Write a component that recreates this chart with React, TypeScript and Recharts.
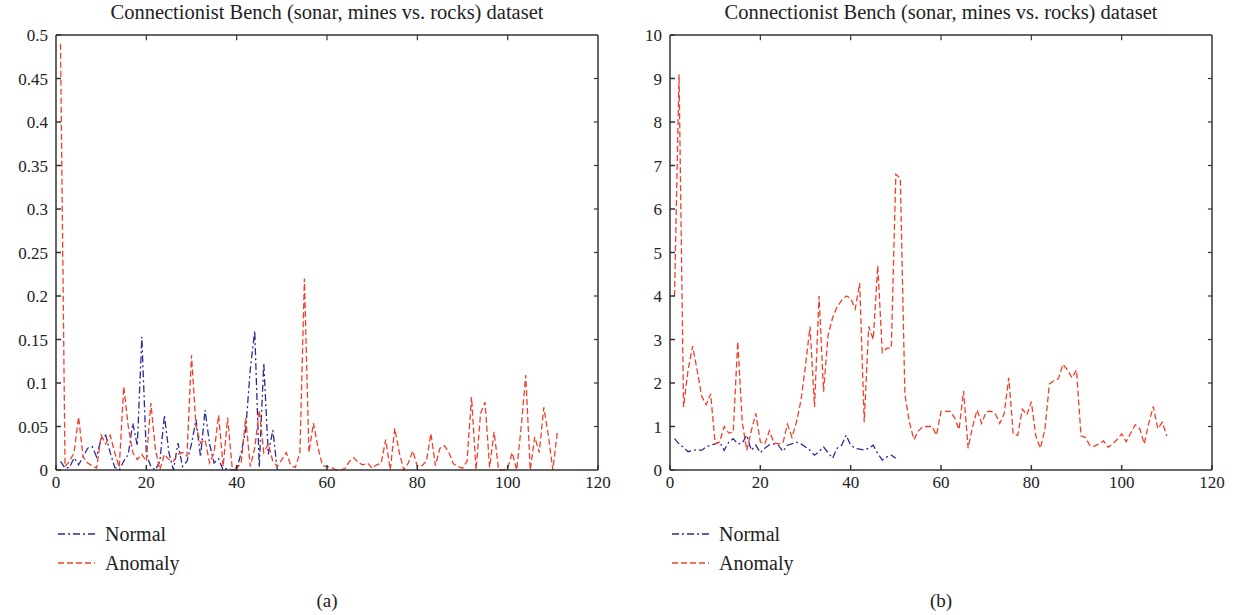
import React from 'react';
import { LineChart, Line, XAxis, YAxis, Legend, ReferenceLine } from 'recharts';

// x positions are sample index 1..n
const xTicks = [0, 20, 40, 60, 80, 100, 120];
const leftYTicks = [0, 0.05, 0.1, 0.15, 0.2, 0.25, 0.3, 0.35, 0.4, 0.45, 0.5];
const rightYTicks = [0, 1, 2, 3, 4, 5, 6, 7, 8, 9, 10];

const leftNormal = [
  0.01, 0.002, 0.003, 0.014, 0.006, 0.015, 0.025, 0.027, 0.015, 0.036,
  0.04, 0.02, 0.003, 0.0, 0.01, 0.018, 0.054, 0.028, 0.153, 0.018,
  0.004, 0.0, 0.01, 0.063, 0.02, 0.0, 0.031, 0.004, 0.01, 0.03,
  0.058, 0.015, 0.069, 0.03, 0.008, 0.013, 0.0, 0.002, 0.0, 0.0,
  0.02, 0.046, 0.115, 0.16, 0.003, 0.123, 0.018, 0.046, 0.0,
];

const leftAnomaly = [
  0.49, 0.004, 0.01, 0.02, 0.061, 0.015, 0.008, 0.005, 0.002, 0.04,
  0.03, 0.04, 0.02, 0.003, 0.096, 0.05, 0.02, 0.012, 0.018, 0.01,
  0.077, 0.024, 0.0, 0.018, 0.012, 0.01, 0.018, 0.02, 0.016, 0.132,
  0.05, 0.031, 0.035, 0.008, 0.02, 0.063, 0.004, 0.06, 0.003, 0.002,
  0.008, 0.06, 0.004, 0.025, 0.069, 0.02, 0.03, 0.01, 0.004, 0.012,
  0.02, 0.005, 0.003, 0.02, 0.22, 0.02, 0.054, 0.026, 0.005, 0.004,
  0.003, 0.0, 0.0, 0.002, 0.01, 0.014, 0.008, 0.006, 0.008, 0.002,
  0.006, 0.008, 0.035, 0.0, 0.048, 0.02, 0.0, 0.008, 0.022, 0.004,
  0.005, 0.01, 0.042, 0.005, 0.025, 0.028, 0.02, 0.007, 0.004, 0.002,
  0.01, 0.084, 0.0, 0.065, 0.078, 0.003, 0.044, 0.0, 0.0, 0.002,
  0.02, 0.0, 0.05, 0.109, 0.0, 0.038, 0.02, 0.072, 0.04, 0.0,
  0.044,
];

const rightNormal = [
  0.72, 0.6, 0.52, 0.42, 0.45, 0.47, 0.45, 0.53, 0.57, 0.6,
  0.64, 0.45, 0.64, 0.72, 0.6, 0.62, 0.8, 0.45, 0.57, 0.4,
  0.5, 0.58, 0.6, 0.57, 0.43, 0.57, 0.6, 0.64, 0.6, 0.53,
  0.45, 0.34, 0.42, 0.53, 0.4, 0.27, 0.5, 0.57, 0.8, 0.57,
  0.5, 0.48, 0.46, 0.5, 0.57, 0.38, 0.23, 0.3, 0.34, 0.27,
];

const rightAnomaly = [
  4.0, 9.1, 1.45, 2.3, 2.85, 2.3, 1.7, 1.5, 1.75, 0.6,
  0.65, 1.0, 0.85, 0.87, 2.95, 1.1, 0.45, 0.9, 1.3, 0.65,
  0.6, 0.9, 0.63, 0.6, 0.62, 1.05, 0.75, 1.1, 1.6, 2.4,
  3.3, 1.45, 4.0, 1.8, 3.1, 3.5, 3.75, 3.9, 4.0, 3.95,
  3.7, 4.3, 1.1, 3.3, 3.0, 4.7, 2.7, 2.8, 2.8, 6.8,
  6.7, 1.75, 1.1, 0.7, 0.9, 1.0, 1.0, 1.0, 0.8, 1.35,
  1.35, 1.35, 1.2, 0.93, 1.82, 0.5, 1.0, 1.38, 1.07, 1.34,
  1.35, 1.3, 1.07, 1.3, 2.12, 0.82, 0.8, 1.4, 1.27, 1.57,
  0.78, 0.5, 0.93, 1.98, 2.05, 2.1, 2.43, 2.3, 2.12, 2.3,
  0.78, 0.75, 0.55, 0.55, 0.6, 0.67, 0.52, 0.6, 0.7, 0.83,
  0.65, 0.85, 1.04, 0.95, 0.6, 1.07, 1.46, 0.95, 1.1, 0.78,
];

const TITLE = 'Connectionist Bench (sonar, mines vs. rocks) dataset';
const NORMAL_COLOR = '#2e2a94';
const ANOMALY_COLOR = '#f0402c';
const NORMAL_DASH = '7 3 2 3';
const ANOMALY_DASH = '6 3';
const FONT = '"Liberation Serif", serif';
const AXIS = '#333';

function buildRows(normal: number[], anomaly: number[]) {
  const n = Math.max(normal.length, anomaly.length);
  const rows = [];
  for (let i = 0; i < n; i++) {
    rows.push({ x: i + 1, normal: normal[i], anomaly: anomaly[i] });
  }
  return rows;
}

const LegendBox = () => (
  <svg width={200} height={60} style={{ fontFamily: FONT }}>
    <line x1={1} x2={38} y1={14} y2={14} stroke={NORMAL_COLOR} strokeWidth={1.4} strokeDasharray={NORMAL_DASH} />
    <text x={48} y={21} fontSize={20} fill="#222">Normal</text>
    <line x1={1} x2={38} y1={43} y2={43} stroke={ANOMALY_COLOR} strokeWidth={1.4} strokeDasharray={ANOMALY_DASH} />
    <text x={48} y={50} fontSize={20} fill="#222">Anomaly</text>
  </svg>
);

// inward tick marks on the top / right edges, no labels
const TopTick = (props: any) => (
  <line x1={props.x} x2={props.x} y1={35} y2={40} stroke={AXIS} strokeWidth={1.2} />
);

interface PanelProps {
  left: number;
  normal: number[];
  anomaly: number[];
  yTicks: number[];
  yMax: number;
  tag: string;
}

function Panel({ left, normal, anomaly, yTicks, yMax, tag }: PanelProps) {
  const data = buildRows(normal, anomaly);
  const tickStyle = { fontSize: 17, fill: '#222', fontFamily: FONT };
  return (
    <div style={{ position: 'absolute', left, top: 0, width: 620, height: 615 }}>
      <div
        style={{
          position: 'absolute', left: 56, width: 542, top: 1, textAlign: 'center',
          fontFamily: FONT, fontSize: 20.5, color: '#222', whiteSpace: 'nowrap',
        }}
      >
        {TITLE}
      </div>
      <LineChart width={620} height={600} data={data} margin={{ top: 35, right: 22, bottom: 100, left: 0 }}>
        <XAxis
          dataKey="x"
          type="number"
          domain={[0, 120]}
          ticks={xTicks}
          interval={0}
          height={30}
          tickSize={-5}
          tickMargin={11}
          tick={tickStyle}
          stroke={AXIS}
          strokeWidth={1.5}
        />
        <YAxis
          type="number"
          domain={[0, yMax]}
          ticks={yTicks}
          interval={0}
          width={56}
          tickSize={-5}
          tickMargin={13}
          tick={tickStyle}
          stroke={AXIS}
          strokeWidth={1.5}
        />
        {/* box: top and right edges with inward ticks */}
        <ReferenceLine y={yMax} stroke={AXIS} strokeWidth={1.5} ifOverflow="visible" />
        <ReferenceLine x={120} stroke={AXIS} strokeWidth={1.5} ifOverflow="visible" />
        {xTicks.slice(1, -1).map((t) => (
          <ReferenceLine
            key={'tx' + t}
            segment={[{ x: t, y: yMax }, { x: t, y: yMax * 0.988 }]}
            stroke={AXIS}
            strokeWidth={1.2}
          />
        ))}
        {yTicks.slice(1, -1).map((t) => (
          <ReferenceLine
            key={'ty' + t}
            segment={[{ x: 120, y: t }, { x: 119.1, y: t }]}
            stroke={AXIS}
            strokeWidth={1.2}
          />
        ))}
        <Line
          dataKey="normal"
          name="Normal"
          type="linear"
          stroke={NORMAL_COLOR}
          strokeWidth={1.3}
          strokeDasharray={NORMAL_DASH}
          dot={false}
          isAnimationActive={false}
        />
        <Line
          dataKey="anomaly"
          name="Anomaly"
          type="linear"
          stroke={ANOMALY_COLOR}
          strokeWidth={1.3}
          strokeDasharray={ANOMALY_DASH}
          dot={false}
          isAnimationActive={false}
        />
        <Legend
          layout="horizontal"
          verticalAlign="middle"
          align="center"
          content={LegendBox}
          wrapperStyle={{ left: 57, top: 520, width: 200, height: 60 }}
        />
      </LineChart>
      <div
        style={{
          position: 'absolute', left: 56, width: 542, top: 590, textAlign: 'center',
          fontFamily: FONT, fontSize: 19, color: '#222',
        }}
      >
        {tag}
      </div>
    </div>
  );
}

export default function App() {
  return (
    <div style={{ position: 'absolute', left: 0, top: 0, width: 1238, height: 615, background: '#fff' }}>
      <Panel left={0} normal={leftNormal} anomaly={leftAnomaly} yTicks={leftYTicks} yMax={0.5} tag="(a)" />
      <Panel left={614} normal={rightNormal} anomaly={rightAnomaly} yTicks={rightYTicks} yMax={10} tag="(b)" />
    </div>
  );
}
